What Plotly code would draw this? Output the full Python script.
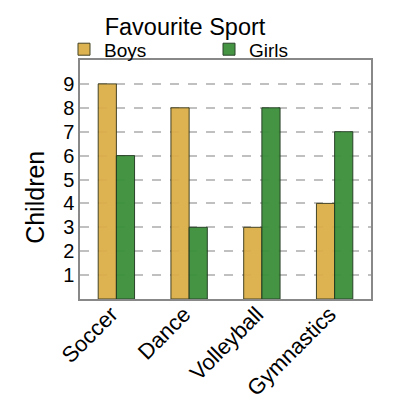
import plotly.graph_objects as go

# Chart data
sports = ["Soccer", "Dance", "Volleyball", "Gymnastics"]
boys = [9, 8, 3, 4]
girls = [6, 3, 8, 7]
y_ticks = [1, 2, 3, 4, 5, 6, 7, 8, 9]

fig = go.Figure()

fig.add_trace(go.Bar(
    x=sports, y=boys, name="Boys",
    marker=dict(color="#dcae48", line=dict(color="#3a3a1a", width=1)),
    opacity=0.95
))
fig.add_trace(go.Bar(
    x=sports, y=girls, name="Girls",
    marker=dict(color="#3a8f3a", line=dict(color="#1f3a1f", width=1)),
    opacity=0.95
))

fig.update_layout(
    width=400, height=400,
    margin=dict(l=72, r=37, t=52, b=109, autoexpand=False),
    barmode="group",
    bargap=0.5,
    bargroupgap=0,
    plot_bgcolor="white",
    paper_bgcolor="white",
    font=dict(family="Liberation Sans, Arial", color="black"),
    title=dict(text="Favourite Sport", x=0.4425, xanchor="center",
               y=0.953, yanchor="middle", font=dict(size=23.5)),
    legend=dict(orientation="h", xref="container", x=0.14, xanchor="left",
                y=0.965, yanchor="bottom",
                entrywidth=100, entrywidthmode="pixels",
                font=dict(size=19), itemwidth=30, tracegroupgap=0,
                bgcolor="rgba(0,0,0,0)"),
)

# y axis title as a rotated annotation (axis title misplaces without automargin)
fig.add_annotation(
    text="Children", textangle=-90, showarrow=False,
    xref="paper", yref="paper", x=-0.155, y=0.427,
    xanchor="center", yanchor="middle", font=dict(size=25)
)

fig.update_xaxes(
    tickangle=-45, tickfont=dict(size=22), automargin=False,
    showline=True, linecolor="#888", linewidth=1.5, mirror=True,
    ticks="", showgrid=False, ticklabelstandoff=-8, ticklabelshift=-5
)
fig.update_yaxes(
    range=[0, 10], tickvals=y_ticks, tickfont=dict(size=20), automargin=False,
    showgrid=True, gridcolor="#c0c0c0", griddash="dash", gridwidth=1.5,
    showline=True, linecolor="#888", linewidth=1.5, mirror=True,
    zeroline=False, ticks=""
)

fig.write_html("out.html")
